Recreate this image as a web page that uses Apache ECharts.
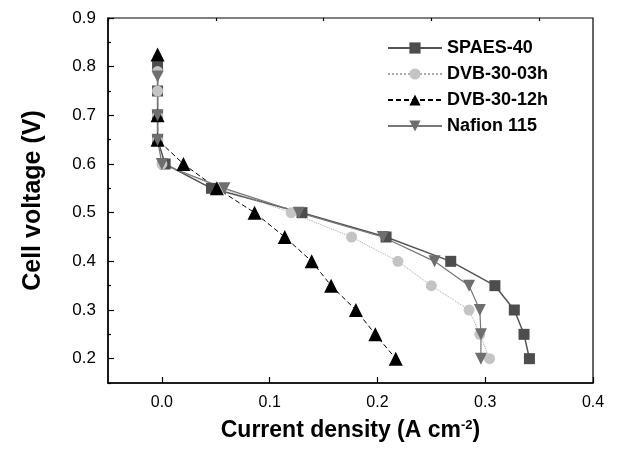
<!DOCTYPE html>
<html>
<head>
<meta charset="utf-8">
<script src="https://cdn.jsdelivr.net/npm/echarts@6/dist/echarts.min.js"></script>
<style>
  html, body { margin: 0; padding: 0; background: #fff; }
  #chart { width: 622px; height: 454px; }
</style>
</head>
<body>
<div id="chart"></div>
<script>
// values (current density A/cm2, cell voltage V)
const spaesV = [0.8, 0.75, 0.7, 0.65, 0.6, 0.55, 0.5, 0.45, 0.4, 0.35, 0.3, 0.25, 0.2]
const spaesI = [-0.004, -0.004, -0.004, -0.004, 0.003, 0.046, 0.13, 0.208, 0.268, 0.309, 0.327, 0.336, 0.341]

const dvb03V = [0.79, 0.75, 0.7, 0.65, 0.6, 0.55, 0.5, 0.45, 0.4, 0.35, 0.3, 0.25, 0.2]
const dvb03I = [-0.004, -0.004, -0.004, -0.004, 0.0, 0.055, 0.12, 0.176, 0.219, 0.25, 0.285, 0.295, 0.304]

const dvb12V = [0.825, 0.7, 0.65, 0.6, 0.55, 0.5, 0.45, 0.4, 0.35, 0.3, 0.25, 0.2]
const dvb12I = [-0.004, -0.004, -0.004, 0.02, 0.051, 0.086, 0.114, 0.139, 0.157, 0.18, 0.198, 0.217]

const nafionV = [0.78, 0.7, 0.65, 0.6, 0.55, 0.5, 0.45, 0.4, 0.35, 0.3, 0.25, 0.2]
const nafionI = [-0.004, -0.004, -0.004, 0.0, 0.058, 0.127, 0.205, 0.253, 0.285, 0.295, 0.296, 0.296]

const xTicks = [0.0, 0.1, 0.2, 0.3, 0.4]
const xMinorTicks = [-0.05, 0.05, 0.15, 0.25, 0.35]
const yTicks = [0.2, 0.3, 0.4, 0.5, 0.6, 0.7, 0.8, 0.9]
const yMinorTicks = [0.15, 0.25, 0.35, 0.45, 0.55, 0.65, 0.75, 0.85]

const pairs = (xs, ys) => xs.map((x, i) => [x, ys[i]])

const font = 'Arial, "Liberation Sans", sans-serif'

const chart = echarts.init(document.getElementById('chart'))

const baseX = {
    type: 'value', min: -0.05, max: 0.4,
    splitLine: { show: false }
}
const baseY = {
    type: 'value', min: 0.15, max: 0.9,
    splitLine: { show: false }
}

chart.setOption({
    animation: false,
    backgroundColor: '#fff',
    grid: {
        left: 108, right: 29, top: 18, bottom: 71,
        show: true, borderColor: '#000', borderWidth: 1.2
    },
    legend: {
        orient: 'vertical',
        left: 382, top: 34,
        itemWidth: 54, itemHeight: 14, itemGap: 8,
        textStyle: { fontFamily: font, fontWeight: 'bold', fontSize: 18, color: '#000' },
        data: ['SPAES-40', 'DVB-30-03h', 'DVB-30-12h', 'Nafion 115']
    },
    xAxis: [
        Object.assign({}, baseX, {
            name: '{t|Current density (A cm}{s|-2}{t|)}',
            nameLocation: 'middle', nameGap: 36,
            nameTextStyle: {
                rich: {
                    t: { fontFamily: font, fontWeight: 'bold', fontSize: 23, color: '#000' },
                    s: { fontFamily: font, fontWeight: 'bold', fontSize: 13, color: '#000', verticalAlign: 'top', padding: [0, 0, 10, 0] }
                }
            },
            axisLine: { onZero: false, lineStyle: { color: '#000', width: 1.5 } },
            axisTick: { inside: true, length: 6, customValues: xTicks, lineStyle: { color: '#000', width: 1.2 } },
            axisLabel: {
                customValues: xTicks, margin: 12,
                fontFamily: font, fontSize: 16, color: '#000',
                formatter: v => v.toFixed(1)
            }
        }),
        Object.assign({}, baseX, {
            axisLine: { show: false, onZero: false },
            axisTick: { inside: true, length: 3, customValues: xMinorTicks, lineStyle: { color: '#000', width: 1.2 } },
            axisLabel: { show: false }
        })
    ],
    yAxis: [
        Object.assign({}, baseY, {
            name: 'Cell voltage (V)',
            nameLocation: 'middle', nameGap: 62,
            nameTextStyle: { fontFamily: font, fontWeight: 'bold', fontSize: 25, color: '#000' },
            axisLine: { onZero: false, lineStyle: { color: '#000', width: 1.5 } },
            axisTick: { inside: true, length: 6, customValues: yTicks, lineStyle: { color: '#000', width: 1.2 } },
            axisLabel: {
                customValues: yTicks, margin: 12,
                fontFamily: font, fontSize: 17, color: '#000',
                formatter: v => v.toFixed(1)
            }
        }),
        Object.assign({}, baseY, {
            position: 'left',
            axisLine: { show: false, onZero: false },
            axisTick: { inside: true, length: 3, customValues: yMinorTicks, lineStyle: { color: '#000', width: 1.2 } },
            axisLabel: { show: false }
        })
    ],
    series: [
        {
            name: 'SPAES-40', type: 'line',
            data: pairs(spaesI, spaesV),
            symbol: 'rect', symbolSize: 11,
            itemStyle: { color: '#4d4d4d' },
            lineStyle: { color: '#555', width: 1.5 }
        },
        {
            name: 'DVB-30-03h', type: 'line',
            data: pairs(dvb03I, dvb03V),
            symbol: 'circle', symbolSize: 11,
            itemStyle: { color: '#c4c4c4' },
            lineStyle: { color: '#aaa', width: 1, type: 'dotted' }
        },
        {
            name: 'DVB-30-12h', type: 'line',
            data: pairs(dvb12I, dvb12V),
            symbol: 'triangle', symbolSize: 14,
            itemStyle: { color: '#000' },
            lineStyle: { color: '#000', width: 1, type: [5, 3] }
        },
        {
            name: 'Nafion 115', type: 'line',
            data: pairs(nafionI, nafionV),
            symbol: 'triangle', symbolRotate: 180, symbolSize: 12,
            itemStyle: { color: '#6e6e6e' },
            lineStyle: { color: '#777', width: 1.2 }
        }
    ]
})
</script>
</body>
</html>
